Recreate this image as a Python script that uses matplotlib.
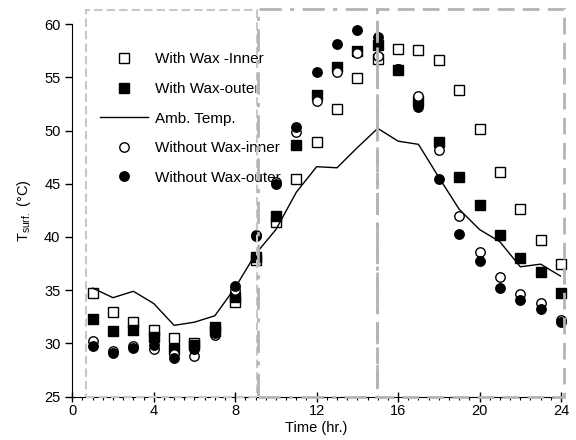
import numpy as np
import matplotlib.pyplot as plt
from matplotlib.patches import Rectangle

plt.rcParams['font.family'] = ['Liberation Sans', 'DejaVu Sans']

hours = list(range(1, 25))

wax_inner = [34.7, 33.0, 32.0, 31.3, 30.5, 30.0, 31.2, 33.85, 37.8, 41.4, 45.4, 48.9,
             52.05, 54.9, 56.75, 57.7, 57.6, 56.6, 53.8, 50.1, 46.1, 42.6, 39.7, 37.5]
wax_outer = [32.3, 31.2, 31.25, 30.6, 29.45, 29.9, 31.5, 34.4, 38.1, 42.0, 48.6, 53.3,
             56.0, 57.5, 58.0, 55.7, 52.8, 48.9, 45.6, 43.0, 40.2, 38.05, 36.7, 34.75]
amb_temp = [35.2, 34.3, 34.9, 33.75, 31.7, 32.0, 32.6, 35.25, 38.4, 40.7, 44.2, 46.6,
            46.5, 48.4, 50.2, 49.0, 48.7, 45.6, 42.6, 40.7, 39.55, 37.2, 37.45, 36.3]
nowax_inner = [30.2, 29.3, 29.8, 29.45, 29.0, 28.8, 30.8, 35.0, 40.2, 45.2, 49.85, 52.8,
               55.5, 57.3, 57.0, 55.8, 53.2, 48.15, 42.0, 38.6, 36.2, 34.6, 33.8, 32.2]
nowax_outer = [29.8, 29.1, 29.6, 29.85, 28.6, 29.5, 31.0, 35.4, 40.1, 45.0, 50.3, 55.5,
               58.15, 59.4, 58.8, 55.8, 52.2, 45.4, 40.3, 37.75, 35.25, 34.1, 33.2, 32.0]

fig = plt.figure(figsize=(5.76, 4.4), dpi=100)
ax = fig.add_axes([0.1255, 0.0984, 0.8485, 0.8470])

ms = 6.8
ax.plot(hours, wax_inner, 's', ms=ms, mfc='white', mec='black', mew=1.0,
        linestyle='none', label='With Wax -Inner', zorder=3, clip_on=False)
ax.plot(hours, wax_outer, 's', ms=ms, mfc='black', mec='black',
        linestyle='none', label='With Wax-outer', zorder=3, clip_on=False)
ax.plot(hours, amb_temp, '-', color='black', lw=1.0, label='Amb. Temp.', zorder=3)
ax.plot(hours, nowax_inner, 'o', ms=ms, mfc='white', mec='black', mew=1.0,
        linestyle='none', label='Without Wax-inner', zorder=3, clip_on=False)
ax.plot(hours, nowax_outer, 'o', ms=ms, mfc='black', mec='black',
        linestyle='none', label='Without Wax-outer', zorder=3, clip_on=False)

# the three period boxes
boxes = [
    (0.66, 9.05, 61.3, (0, (4, 2)), '#c8c8c8', 1.5),
    (9.1, 14.95, 61.4, (0, (8, 3, 1.5, 3)), '#b4b4b4', 2.0),
    (14.95, 24.13, 61.4, (0, (6, 3)), '#b4b4b4', 2.0),
]
for x0, x1, ytop, ls, col, lw in boxes:
    r = Rectangle((x0, 25), x1 - x0, ytop - 25, fill=False, edgecolor=col,
                  linestyle=ls, linewidth=lw, clip_on=False, zorder=5)
    ax.add_patch(r)

ax.set_xlim(0, 24)
ax.set_ylim(25, 60)
ax.set_xticks(np.arange(0, 25, 4))
ax.set_xticks(np.arange(0, 24.1, 0.5), minor=True)
ax.set_yticks(np.arange(25, 61, 5))
ax.tick_params(axis='x', which='major', direction='inout', length=7, width=1,
               labelsize=10.5, pad=2)
ax.tick_params(axis='x', which='minor', direction='out', length=2, width=0.8)
ax.tick_params(axis='y', which='major', direction='out', length=5, width=1,
               labelsize=10.5)

ax.spines['top'].set_visible(False)
ax.spines['right'].set_visible(False)

ax.set_xlabel('Time (hr.)', fontsize=10.5, labelpad=2)
ax.set_ylabel('T$_{\\mathregular{surf.}}$ (°C)', fontsize=10.5, labelpad=8)

leg = ax.legend(loc='upper left', bbox_to_anchor=(0.045, 0.94), frameon=False,
                fontsize=11, handlelength=3.1, handletextpad=0.45,
                labelspacing=1.02, borderaxespad=0)
leg.set_zorder(2)

fig.savefig('out.png', dpi=100)
